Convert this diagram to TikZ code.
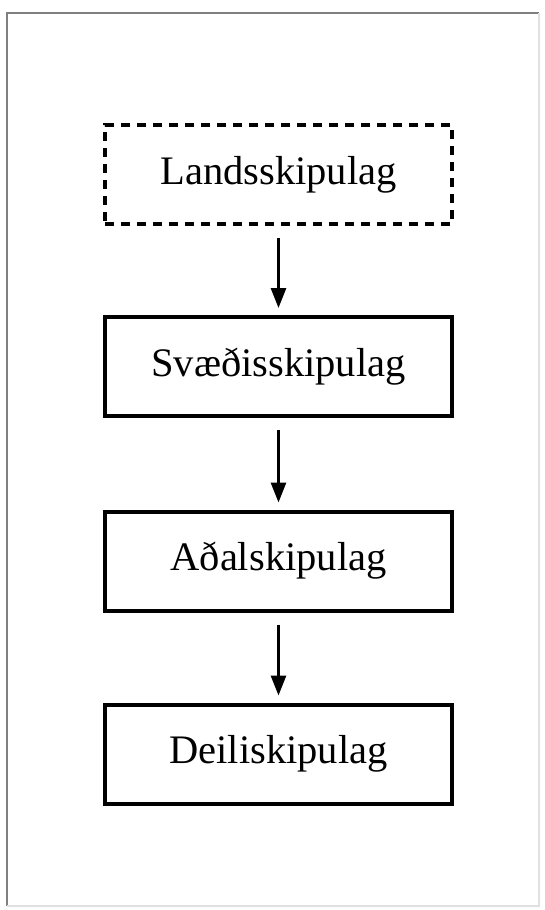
\documentclass[tikz,border=0pt]{standalone}
\usepackage{fontspec}
\setmainfont{Liberation Serif}
\usetikzlibrary{arrows.meta}
\begin{document}
\begin{tikzpicture}[x=1pt,y=-1pt,
  levelbox/.style={draw=black, line width=4pt, minimum width=347pt, minimum height=99pt,
    inner sep=0pt, font=\fontsize{40.5}{48}\selectfont},
  plannedbox/.style={levelbox, dash pattern=on 9pt off 7pt},
  flow/.style={line width=3pt, -{Triangle[width=15pt,length=20pt]},
    shorten <=12pt, shorten >=7pt},
  frameline/.style={line width=2pt}]
  \useasboundingbox (0,0) rectangle (544,910);
  % page frame
  \draw[frameline, black!50] (7,906) -- (7,13) -- (539,13);
  \draw[frameline, black!12] (539,13) -- (539,906) -- (7,906);
  % planning levels
  \node[plannedbox] (land) at (278.5,174.5) {Landsskipulag};
  \node[levelbox] (svaedi) at (278.5,366.5) {Svæðisskipulag};
  \node[levelbox] (adal) at (278.5,561) {Aðalskipulag};
  \node[levelbox] (deili) at (278.5,754) {Deiliskipulag};
  % hierarchy arrows
  \draw[flow] (land) -- (svaedi);
  \draw[flow] (svaedi) -- (adal);
  \draw[flow] (adal) -- (deili);
\end{tikzpicture}
\end{document}
